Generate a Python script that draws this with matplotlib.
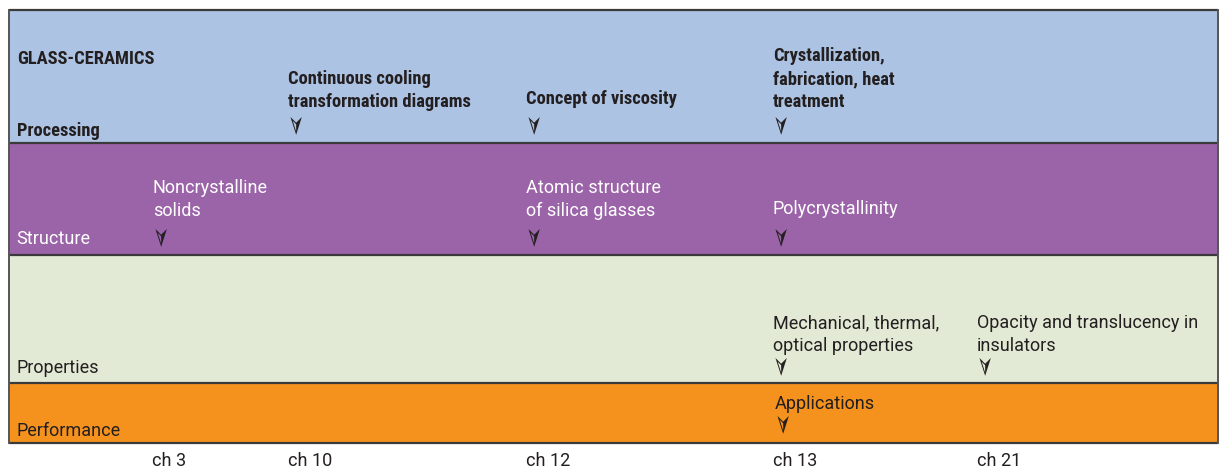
import matplotlib
matplotlib.use("Agg")
import matplotlib.pyplot as plt
from matplotlib import font_manager as fm

def pick(cands):
    names = {f.name for f in fm.fontManager.ttflist}
    for c in cands:
        if c in names:
            return c
    return "DejaVu Sans"

BOLD_FONT = pick(["Liberation Sans Narrow", "DejaVu Sans Condensed", "Roboto Condensed", "Roboto"])
REG_FONT = pick(["Roboto", "Lato", "DejaVu Sans"])

# ---- data ----
title = "GLASS-CERAMICS"
rows = ["Processing", "Structure", "Properties", "Performance"]
row_colors = ["#adc3e3", "#9b63a8", "#e2e9d4", "#f5921e"]
row_text_colors = ["#231f20", "#ffffff", "#231f20", "#231f20"]
chapters = ["ch 3", "ch 10", "ch 12", "ch 13", "ch 21"]
processing_topics = {"ch 10": "Continuous cooling\ntransformation diagrams",
                     "ch 12": "Concept of viscosity",
                     "ch 13": "Crystallization,\nfabrication, heat\ntreatment"}
structure_topics = {"ch 3": "Noncrystalline\nsolids",
                    "ch 12": "Atomic structure\nof silica glasses",
                    "ch 13": "Polycrystallinity"}
properties_topics = {"ch 13": "Mechanical, thermal,\noptical properties",
                     "ch 21": "Opacity and translucency in\ninsulators"}
performance_topics = {"ch 13": "Applications"}
topics = [processing_topics, structure_topics, properties_topics, performance_topics]

# ---- layout (pixel coordinates) ----
W, H = 1219, 472
x_left, x_right = 9, 1218
band_edges = [10, 143, 255, 383, 443]
chapter_x = [153, 288, 526, 773, 977]
label_y = [131, 239, 368, 431]
arrow_y = [126, 238, 367, 425]
last_gap = [24, 27, 21, 21]
line_h = 23
BOLD_SIZE = 13.3
REG_SIZE = 13

fig = plt.figure(figsize=(W / 100, H / 100), dpi=100)
ax = fig.add_axes([0, 0, 1, 1])
ax.set_xlim(0, W)
ax.set_ylim(H, 0)
ax.axis("off")

for i, row in enumerate(rows):
    top, bot = band_edges[i], band_edges[i + 1]
    ax.add_patch(plt.Rectangle((x_left, top), x_right - x_left, bot - top,
                               facecolor=row_colors[i], edgecolor="none", zorder=1))
for y in band_edges:
    ax.plot([x_left, x_right], [y, y], color="#3a3a3a", lw=1.6, zorder=3,
            solid_capstyle="butt")
ax.plot([x_left, x_left], [band_edges[0], band_edges[-1]], color="#555555", lw=1.4, zorder=3)
ax.plot([x_right, x_right], [band_edges[0], band_edges[-1]], color="#555555", lw=1.4, zorder=3)

ax.text(17, 59, title, fontsize=BOLD_SIZE, fontweight="bold", family=BOLD_FONT,
        color="#231f20", va="center", ha="left", zorder=4)

ARROW = "\u27a3"
for i, row in enumerate(rows):
    is_bold = (i == 0)
    fam = BOLD_FONT if is_bold else REG_FONT
    fw = "bold" if is_bold else "normal"
    size = BOLD_SIZE if is_bold else REG_SIZE
    ax.text(17 if is_bold else 16, label_y[i], row, fontsize=size,
            fontweight=fw, family=fam, color=row_text_colors[i],
            va="center", ha="left", zorder=4)
    for ch, txt in topics[i].items():
        x = chapter_x[chapters.index(ch)]
        if i == 3:
            x += 2
        lines = txt.split("\n")
        n = len(lines)
        ay = arrow_y[i]
        last = ay - last_gap[i]
        if i == 0 and n == 1:
            last = ay - 27
        if i == 1 and n == 1:
            last = ay - 29
        for k, line in enumerate(lines):
            ax.text(x, last - (n - 1 - k) * line_h, line, fontsize=size,
                    fontweight=fw, family=fam, color=row_text_colors[i],
                    va="center", ha="left", zorder=4)
        ax.text(x + 3, ay, ARROW, fontsize=19, rotation=-90, family="DejaVu Sans",
                color="#231f20", va="center", ha="center", zorder=4)

for ch, x in zip(chapters, chapter_x):
    ax.text(x - (1 if ch == "ch 3" else 0), 461, ch, fontsize=REG_SIZE, family=REG_FONT,
            color="#231f20", va="center", ha="left")

fig.savefig("out.png", dpi=100, facecolor="white")
